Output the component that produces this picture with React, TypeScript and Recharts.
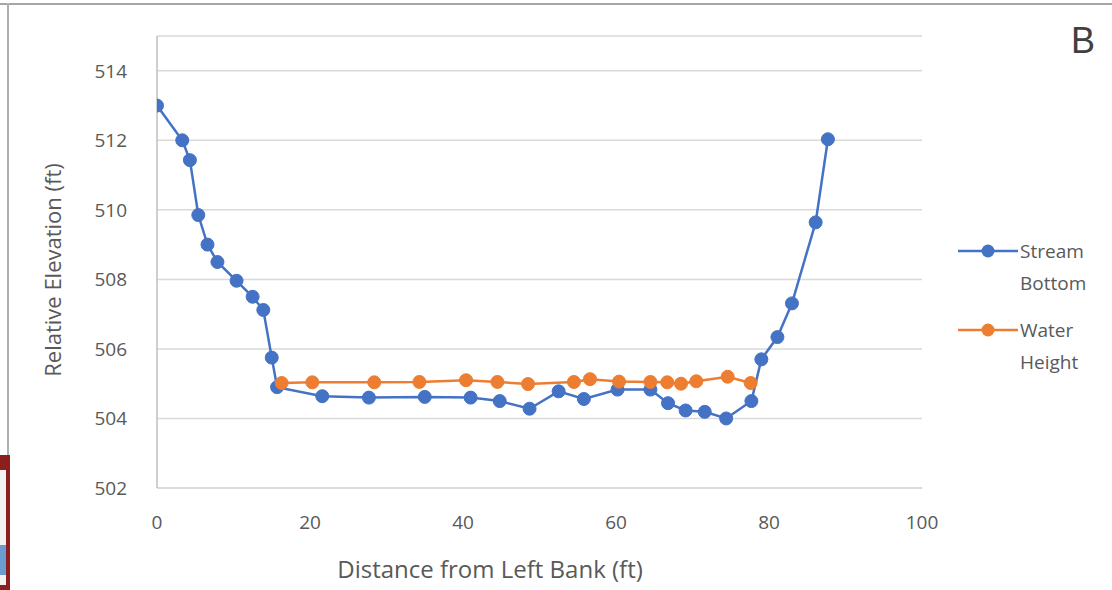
import { CartesianGrid, Label, Line, LineChart, XAxis, YAxis } from "recharts"

// values
const streamDistance = [0, 3.3, 4.3, 5.4, 6.6, 7.9, 10.4, 12.5, 13.9, 15.0, 15.7, 21.6, 27.7, 35.0, 41.0, 44.8, 48.7, 52.5, 55.8, 60.2, 64.5, 66.8, 69.1, 71.6, 74.4, 77.7, 79.0, 81.1, 83.0, 86.1, 87.7]
const streamElevation = [513, 512, 511.43, 509.85, 509.0, 508.5, 507.96, 507.5, 507.12, 505.75, 504.9, 504.64, 504.6, 504.62, 504.6, 504.5, 504.28, 504.78, 504.56, 504.83, 504.83, 504.44, 504.23, 504.19, 504.0, 504.5, 505.7, 506.34, 507.31, 509.64, 512.03]

const waterDistance = [16.3, 20.3, 28.4, 34.3, 40.4, 44.5, 48.5, 54.5, 56.6, 60.4, 64.5, 66.7, 68.5, 70.5, 74.6, 77.6]
const waterElevation = [505.02, 505.04, 505.04, 505.05, 505.1, 505.05, 504.99, 505.05, 505.13, 505.06, 505.05, 505.04, 505.0, 505.07, 505.2, 505.02]

const xTicks = [0, 20, 40, 60, 80, 100]
const yTicks = [502, 504, 506, 508, 510, 512, 514]

const streamBottom = streamDistance.map((x, i) => ({ x, y: streamElevation[i] }))
const waterHeight = waterDistance.map((x, i) => ({ x, y: waterElevation[i] }))

const BLUE = "#4472C4"
const ORANGE = "#ED7D31"
const TEXT = "#595959"
const FONT = "'Open Sans', sans-serif"

function LegendItem({ color, lines, top }: { color: string; lines: string[]; top: number }) {
  return (
    <div style={{ position: "absolute", left: 956, top }}>
      <svg width={64} height={20} style={{ position: "absolute", left: 0, top: 0 }}>
        <line x1={2} y1={10} x2={62} y2={10} stroke={color} strokeWidth={2.5} />
        <circle cx={32} cy={10} r={6.5} fill={color} />
      </svg>
      <div style={{ position: "absolute", left: 64, top: -6, fontFamily: FONT, fontSize: 19, lineHeight: "32px", color: TEXT, whiteSpace: "nowrap" }}>
        {lines.map((l) => (
          <div key={l}>{l}</div>
        ))}
      </div>
    </div>
  )
}

export default function App() {
  return (
    <div style={{ position: "absolute", left: 0, top: 0, width: 1112, height: 590, background: "#fff", overflow: "hidden" }}>
      {/* frame edges */}
      <div style={{ position: "absolute", left: 0, top: 3, width: 1112, height: 1.5, background: "#a6a6a6" }} />
      <div style={{ position: "absolute", left: 7, top: 3, width: 1.5, height: 587, background: "#b0b0b0" }} />
      {/* cropped logo fragment on the left edge */}
      <div style={{ position: "absolute", left: 0, top: 455, width: 10, height: 135, background: "#8b1e1e" }} />
      <div style={{ position: "absolute", left: 0, top: 470, width: 6, height: 115, background: "#f2f2f2" }} />
      <div style={{ position: "absolute", left: 0, top: 545, width: 6, height: 30, background: "#6a9ccf" }} />

      <LineChart
        width={1112}
        height={590}
        margin={{ top: 36, right: 190, left: 0, bottom: 0 }}
        style={{ position: "absolute", left: 0, top: 0 }}
      >
        <CartesianGrid vertical={false} stroke="#d9d9d9" strokeWidth={1.5} />
        <XAxis
          type="number"
          dataKey="x"
          domain={[0, 100]}
          ticks={xTicks}
          height={102}
          tickLine={false}
          axisLine={{ stroke: "#d9d9d9", strokeWidth: 1.5 }}
          tick={{ fill: TEXT, fontSize: 19, fontFamily: FONT }}
          tickMargin={22}
          allowDataOverflow
        >
          <Label
            content={() => (
              <text x={490} y={578} textAnchor="middle" fill={TEXT} fontSize={24} fontFamily={FONT}>
                Distance from Left Bank (ft)
              </text>
            )}
          />
        </XAxis>
        <YAxis
          type="number"
          domain={[502, 515]}
          ticks={yTicks}
          width={157}
          tickLine={false}
          axisLine={{ stroke: "#bfbfbf", strokeWidth: 1.5 }}
          tick={{ fill: TEXT, fontSize: 19, fontFamily: FONT }}
          tickMargin={24}
          allowDataOverflow
        >
          <Label
            content={() => (
              <text
                x={52}
                y={270}
                transform="rotate(-90 52 270)"
                textAnchor="middle"
                dominantBaseline="central"
                fill={TEXT}
                fontSize={22}
                fontFamily={FONT}
              >
                Relative Elevation (ft)
              </text>
            )}
          />
        </YAxis>
        <Line
          data={streamBottom}
          dataKey="y"
          type="linear"
          stroke={BLUE}
          strokeWidth={2.5}
          dot={{ r: 6.5, fill: BLUE, stroke: BLUE, strokeWidth: 1 }}
          isAnimationActive={false}
        />
        <Line
          data={waterHeight}
          dataKey="y"
          type="linear"
          stroke={ORANGE}
          strokeWidth={2.5}
          dot={{ r: 6.5, fill: ORANGE, stroke: ORANGE, strokeWidth: 1 }}
          isAnimationActive={false}
        />
      </LineChart>

      <LegendItem color={BLUE} lines={["Stream", "Bottom"]} top={241} />
      <LegendItem color={ORANGE} lines={["Water", "Height"]} top={320} />

      <div style={{ position: "absolute", left: 1071, top: 20, fontFamily: "'Liberation Sans', Arial, sans-serif", fontSize: 36, color: "#404040" }}>
        B
      </div>
    </div>
  )
}
